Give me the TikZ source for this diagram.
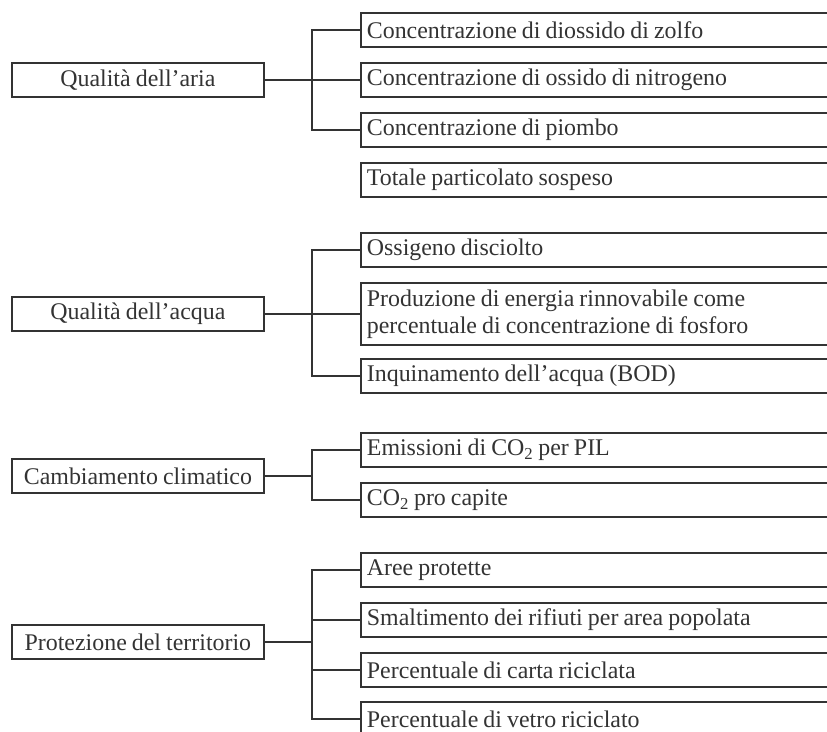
\documentclass[tikz,border=0pt]{standalone}
\usepackage{fontspec}
\setmainfont{Liberation Serif}[WordSpace=0.85]
\definecolor{ink}{HTML}{333333}
\begin{document}
\begin{tikzpicture}[x=1pt,y=-1pt,
  every node/.style={text=ink, font=\fontsize{23.9}{27}\selectfont},
  catbox/.style={draw=ink, line width=1.8pt, rectangle, minimum width=252pt,
    minimum height=34pt, inner sep=0pt, anchor=west},
  itembox/.style={draw=ink, line width=1.8pt, rectangle, text width=470pt,
    align=flush left, inner xsep=6pt, inner ysep=0pt, minimum height=34pt, anchor=west},
  trunk/.style={draw=ink, line width=2.6pt},
  branch/.style={draw=ink, line width=1.8pt}]
\useasboundingbox (0,0) rectangle (827,731);

% --- Qualità dell'aria
\node[catbox] (air) at (11,80) {Qualità dell’aria};
\node[itembox] (a1) at (360,30) {Concentrazione di diossido di zolfo};
\node[itembox] (a2) at (360,80) {Concentrazione di ossido di nitrogeno};
\node[itembox] (a3) at (360,130) {Concentrazione di piombo};
\node[itembox] (a4) at (360,180) {Totale particolato sospeso};
\coordinate (busA) at (312,80);
\draw[trunk] (air.east) -- (busA);
\draw[branch] (busA) |- (a1.west);
\draw[branch] (busA) -- (a2.west);
\draw[branch] (busA) |- (a3.west);

% --- Qualità dell'acqua
\node[catbox] (water) at (11,314) {Qualità dell’acqua};
\node[itembox] (w1) at (360,250) {Ossigeno disciolto};
\node[itembox, minimum height=62pt] (w2) at (360,314)
  {Produzione di energia rinnovabile come\\percentuale di concentrazione di fosforo};
\node[itembox] (w3) at (360,376) {Inquinamento dell’acqua (BOD)};
\coordinate (busW) at (312,314);
\draw[trunk] (water.east) -- (busW);
\draw[branch] (busW) |- (w1.west);
\draw[branch] (busW) -- (w2.west);
\draw[branch] (busW) |- (w3.west);

% --- Cambiamento climatico
\node[catbox] (clim) at (11,476) {Cambiamento climatico};
\node[itembox] (c1) at (360,450) {Emissioni di CO\textsubscript{2} per PIL};
\node[itembox] (c2) at (360,500) {CO\textsubscript{2} pro capite};
\coordinate (busC) at (312,476);
\draw[trunk] (clim.east) -- (busC);
\draw[branch] (busC) |- (c1.west);
\draw[branch] (busC) |- (c2.west);

% --- Protezione del territorio
\node[catbox] (land) at (11,642) {Protezione del territorio};
\node[itembox] (p1) at (360,570) {Aree protette};
\node[itembox] (p2) at (360,620) {Smaltimento dei rifiuti per area popolata};
\node[itembox] (p3) at (360,670) {Percentuale di carta riciclata};
\node[itembox] (p4) at (360,719) {Percentuale di vetro riciclato};
\coordinate (busP) at (312,642);
\draw[trunk] (land.east) -- (busP);
\draw[branch] (busP) |- (p1.west);
\draw[branch] (busP) |- (p2.west);
\draw[branch] (busP) |- (p3.west);
\draw[branch] (busP) |- (p4.west);
\end{tikzpicture}
\end{document}
